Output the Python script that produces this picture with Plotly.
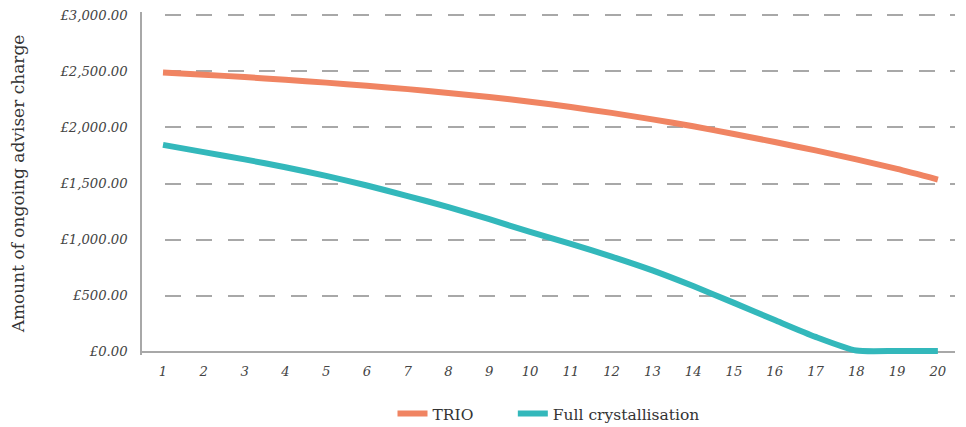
import plotly.graph_objects as go

years = list(range(1, 21))
trio = [2490, 2470, 2450, 2425, 2400, 2372, 2342, 2308, 2272, 2230,
        2182, 2130, 2072, 2010, 1942, 1870, 1795, 1715, 1630, 1535]
full_cryst = [1845, 1780, 1715, 1645, 1568, 1482, 1388, 1290, 1182, 1068,
              962, 848, 725, 585, 435, 282, 132, 10, 6, 6]
y_ticks = [0, 500, 1000, 1500, 2000, 2500, 3000]
series_names = ["TRIO", "Full crystallisation"]

TRIO_COLOR = "#F08462"
TEAL = "#33B8BB"
GRID = "#a8a8a8"
FONT = "DejaVu Serif"
GRID_DASH = "0px,23px," + ",".join(["16px,15.4px"] * 27)

fig = go.Figure()
fig.add_trace(go.Scatter(x=years, y=trio, name=series_names[0] + "\u00a0" * 7, mode="lines",
                         line=dict(color=TRIO_COLOR, width=6, shape="spline", smoothing=0.6)))
fig.add_trace(go.Scatter(x=years, y=full_cryst, name=series_names[1], mode="lines",
                         line=dict(color=TEAL, width=6, shape="spline", smoothing=0.6)))

fig.update_layout(
    width=966, height=427,
    margin=dict(l=142, r=11, t=12, b=72),
    paper_bgcolor="white", plot_bgcolor="white",
    font=dict(family=FONT, color="#333333"),
    showlegend=True,
    legend=dict(orientation="h", x=0.5, xanchor="center",
                yref="container", y=1 - 414 / 427, yanchor="middle",
                font=dict(family=FONT, size=15.5, color="#333333")),
)
fig.update_xaxes(
    range=[0.485, 20.42], tickmode="array", tickvals=years,
    ticktext=[str(y) for y in years], automargin=False,
    showgrid=False, zeroline=False, showline=False, ticks="",
    ticklabelstandoff=7,
    tickfont=dict(family=FONT, size=13.2, style="italic", color="#444444"),
)
fig.update_yaxes(
    range=[-30, 3030], tickmode="array", tickvals=y_ticks,
    ticktext=["£{:,.2f}".format(v) for v in y_ticks], automargin=False,
    showgrid=True, gridcolor=GRID, gridwidth=1.5, griddash=GRID_DASH,
    zeroline=True, zerolinecolor=GRID, zerolinewidth=1.5,
    showline=True, linecolor=GRID, linewidth=1.5, ticks="",
    ticklabelstandoff=10,
    tickfont=dict(family=FONT, size=13.2, style="italic", color="#444444"),
    title=dict(text="Amount of ongoing adviser charge", standoff=31,
               font=dict(family=FONT, size=17, color="#333333")),
)

fig.write_html("out.html", config={"displayModeBar": False},
               post_script="document.body.style.margin='0';document.body.style.overflow='hidden';")
